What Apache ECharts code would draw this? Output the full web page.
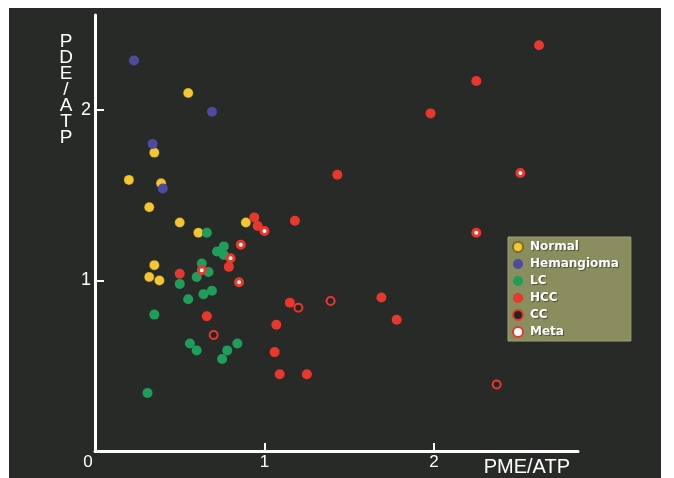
<!DOCTYPE html>
<html>
<head>
<meta charset="utf-8">
<script src="https://cdn.jsdelivr.net/npm/echarts@6/dist/echarts.min.js"></script>
<style>
  body { margin: 0; background: #fff; }
  #chart { width: 674px; height: 478px; }
</style>
</head>
<body>
<div id="chart"></div>
<script>
// [PME/ATP, PDE/ATP] pairs
var normal = [[0.55, 2.10], [0.35, 1.75], [0.20, 1.59], [0.39, 1.57], [0.32, 1.43], [0.50, 1.34],
  [0.89, 1.34], [0.61, 1.28], [0.35, 1.09], [0.32, 1.02], [0.38, 1.00]];
var hemangioma = [[0.23, 2.29], [0.69, 1.99], [0.34, 1.80], [0.40, 1.54]];
var lc = [[0.66, 1.28], [0.76, 1.20], [0.72, 1.17], [0.76, 1.15], [0.63, 1.10], [0.67, 1.05],
  [0.60, 1.02], [0.50, 0.98], [0.69, 0.94], [0.64, 0.92], [0.55, 0.89], [0.35, 0.80],
  [0.56, 0.63], [0.60, 0.59], [0.84, 0.63], [0.78, 0.59], [0.75, 0.54], [0.31, 0.34]];
var hcc = [[2.62, 2.38], [2.25, 2.17], [1.98, 1.98], [1.43, 1.62], [0.94, 1.37], [1.18, 1.35],
  [0.96, 1.32], [0.79, 1.08], [0.50, 1.04], [1.15, 0.87], [1.69, 0.90], [1.78, 0.77],
  [0.66, 0.79], [1.07, 0.74], [1.06, 0.58], [1.09, 0.45], [1.25, 0.45]];
var cc = [[1.20, 0.84], [1.39, 0.88], [0.70, 0.68], [2.37, 0.39]];
var meta = [[2.51, 1.63], [1.00, 1.29], [2.25, 1.28], [0.86, 1.21], [0.80, 1.13], [0.63, 1.06], [0.85, 0.99]];

var xTicks = [0, 1, 2];
var yTicks = [1, 2];
var groups = ['Normal', 'Hemangioma', 'LC', 'HCC', 'CC', 'Meta'];

var chartDom = document.getElementById('chart');
var myChart = echarts.init(chartDom);
var option;

var red = '#e8382e';
var font = 'Liberation Sans';

option = {
  animation: false,
  backgroundColor: '#ffffff',
  graphic: [
    {
      type: 'rect', z: -10, silent: true,
      shape: { x: 9, y: 8, width: 652, height: 470 },
      style: { fill: '#282a28' }
    },
    {
      type: 'text', silent: true,
      x: 66, y: 34,
      style: {
        text: 'PDE/ATP'.split('').join('\n'),
        fill: '#ffffff',
        font: '19px "Liberation Sans"',
        align: 'center',
        verticalAlign: 'top',
        lineHeight: 16
      }
    }
  ],
  grid: { left: 95, top: 15, right: 96, bottom: 27 },
  legend: {
    data: groups,
    orient: 'vertical',
    left: 508,
    top: 237,
    padding: [3, 12, 2, 4],
    itemWidth: 14,
    itemHeight: 10,
    itemGap: 3,
    backgroundColor: '#8a8e5e',
    borderColor: '#9da173',
    borderWidth: 1,
    textStyle: {
      color: '#ffffff',
      fontFamily: 'DejaVu Sans',
      fontWeight: 'bold',
      fontSize: 12,
      lineHeight: 14,
      textShadowColor: 'rgba(0,0,0,0.45)',
      textShadowBlur: 1,
      textShadowOffsetX: 1,
      textShadowOffsetY: 1
    }
  },
  xAxis: {
    type: 'value',
    min: 0,
    max: 2.85,
    interval: 1,
    name: 'PME/ATP',
    nameLocation: 'end',
    nameGap: -8,
    nameTextStyle: {
      color: '#ffffff', fontFamily: font, fontSize: 20,
      align: 'right', verticalAlign: 'top', padding: [6, 0, 0, 0]
    },
    splitLine: { show: false },
    axisLine: { lineStyle: { color: '#ffffff', width: 3 } },
    axisTick: { inside: true, length: 8, customValues: [1, 2], lineStyle: { color: '#ffffff', width: 2 } },
    axisLabel: {
      customValues: xTicks,
      color: '#ffffff', fontFamily: font, fontSize: 17, margin: 3,
      formatter: function (v) { return v === 0 ? '{z|0}' : String(v); },
      rich: { z: { color: '#ffffff', fontFamily: font, fontSize: 17, padding: [0, 14, 0, 0] } }
    }
  },
  yAxis: {
    type: 'value',
    min: 0,
    max: 2.557,
    interval: 1,
    splitLine: { show: false },
    axisLine: { lineStyle: { color: '#ffffff', width: 3 } },
    axisTick: { inside: true, length: 9, customValues: yTicks, lineStyle: { color: '#ffffff', width: 2 } },
    axisLabel: { customValues: yTicks, color: '#ffffff', fontFamily: font, fontSize: 18, margin: 4 }
  },
  series: [
    {
      name: 'Normal', type: 'scatter', data: normal, symbolSize: 10,
      itemStyle: { color: '#f3c632', borderColor: 'rgba(70,50,0,0.5)', borderWidth: 0.6, opacity: 1 }
    },
    {
      name: 'Hemangioma', type: 'scatter', data: hemangioma, symbolSize: 10,
      itemStyle: { color: '#4e4b9c', opacity: 1 }
    },
    {
      name: 'LC', type: 'scatter', data: lc, symbolSize: 10,
      itemStyle: { color: '#1f9e5a', opacity: 1 }
    },
    {
      name: 'HCC', type: 'scatter', data: hcc, symbolSize: 10,
      itemStyle: { color: red, opacity: 1 }
    },
    {
      name: 'CC', type: 'scatter', data: cc, symbolSize: 8,
      itemStyle: { color: '#262626', borderColor: red, borderWidth: 2, opacity: 1 }
    },
    {
      name: 'Meta', type: 'scatter', data: meta, symbolSize: 7,
      itemStyle: { color: '#ffffff', borderColor: red, borderWidth: 3, opacity: 1 }
    }
  ]
};

option && myChart.setOption(option);
</script>
</body>
</html>
